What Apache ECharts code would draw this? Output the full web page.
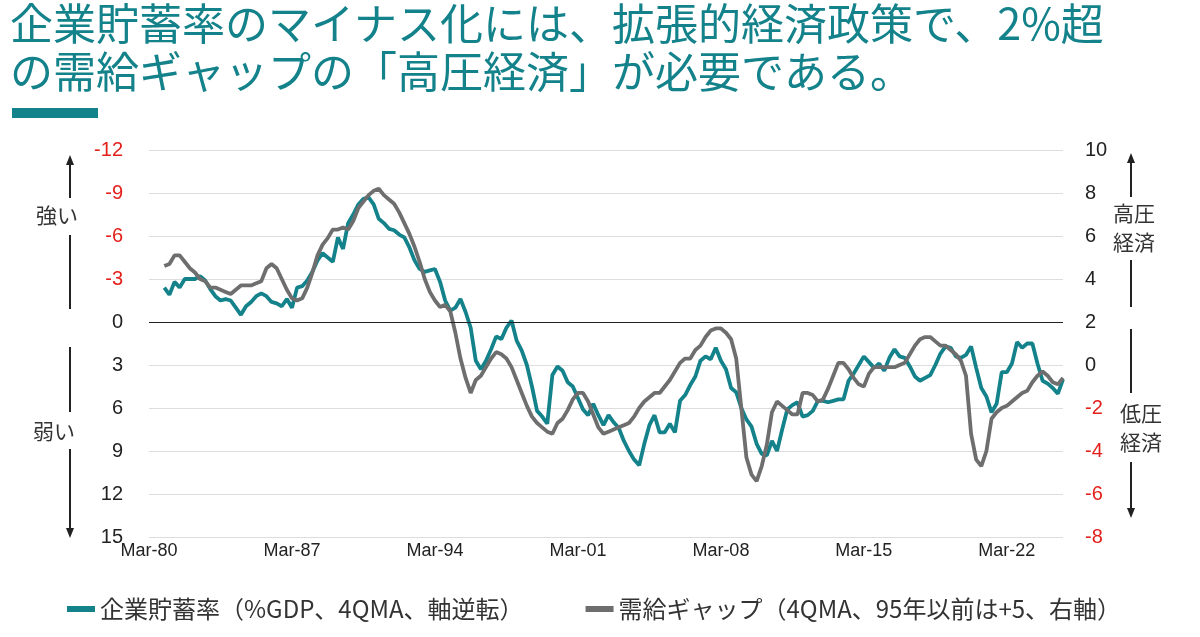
<!DOCTYPE html>
<html>
<head>
<meta charset="utf-8">
<script src="https://cdn.jsdelivr.net/npm/echarts/dist/echarts.min.js"></script>
<style>
  html, body { margin: 0; padding: 0; background: #fff; }
  #chart { width: 1200px; height: 637px; }
</style>
</head>
<body>
<div id="chart"></div>
<script>
// 四半期ラベル（Mar-80 〜 Dec-24）
var months = ['Mar', 'Jun', 'Sep', 'Dec'];
var quarters = [];
for (var y = 1980; y <= 2024; y++) {
    for (var q = 0; q < 4; q++) {
        quarters.push(months[q] + '-' + String(y % 100).padStart(2, '0'));
    }
}

// 企業貯蓄率（%GDP、4QMA、軸逆転）左軸
var savingRate = [null, null, null,
    -2.4, -1.9, -2.8, -2.4, -3.0, -3.0, -3.0, -3.2, -2.9, -2.3,
    -1.8, -1.5, -1.6, -1.5, -1.0, -0.5, -1.1, -1.4, -1.8, -2.0,
    -1.8, -1.4, -1.3, -1.1, -1.6, -1.0, -2.4, -2.5, -2.9, -3.5,
    -4.3, -4.8, -4.5, -4.2, -5.9, -5.1, -6.9, -7.5, -8.2, -8.6,
    -8.7, -8.2, -7.2, -6.9, -6.5, -6.4, -6.1, -5.9, -5.2, -4.3,
    -3.7, -3.5, -3.6, -3.7, -2.8, -1.5, -0.8, -1.0, -1.6, -0.7,
    0.4, 2.7, 3.3, 2.7, 1.9, 1.0, 1.2, 0.4, -0.1, 1.3,
    2.0, 3.0, 4.5, 6.2, 6.6, 7.1, 3.7, 3.1, 3.4, 4.2,
    4.5, 5.3, 6.1, 6.5, 5.7, 6.5, 7.2, 6.5, 7.0, 7.4,
    8.3, 9.0, 9.6, 10.0, 8.5, 7.2, 6.5, 7.7, 7.7, 7.1,
    7.7, 5.5, 5.1, 4.4, 3.8, 2.7, 2.4, 2.6, 1.8, 2.7,
    3.3, 4.6, 4.9, 6.0, 6.8, 7.3, 8.5, 9.2, 9.3, 8.3,
    9.0, 7.5, 6.1, 5.8, 5.6, 6.6, 6.5, 6.2, 5.5, 5.5,
    5.6, 5.5, 5.4, 5.4, 4.1, 3.6, 3.0, 2.4, 2.8, 3.2,
    2.9, 3.4, 2.5, 1.9, 2.4, 2.5, 3.1, 3.8, 4.1, 3.9,
    3.7, 3.0, 2.2, 1.7, 1.8, 2.4, 2.5, 2.3, 1.7, 3.2,
    4.6, 5.2, 6.3, 5.7, 3.5, 3.5, 2.9, 1.4, 1.8, 1.5,
    1.5, 2.9, 4.1, 4.3, 4.6, 5.0, 4.0
];

// 需給ギャップ（4QMA、95年以前は+5）右軸
var outputGap = [null, null, null,
    4.6, 4.7, 5.1, 5.1, 4.8, 4.5, 4.3, 4.0, 3.9, 3.6,
    3.6, 3.5, 3.4, 3.3, 3.5, 3.7, 3.7, 3.7, 3.8, 3.9,
    4.5, 4.7, 4.5, 4.0, 3.5, 3.1, 3.0, 3.1, 3.6, 4.3,
    5.1, 5.6, 5.9, 6.3, 6.3, 6.4, 6.3, 6.7, 7.3, 7.6,
    7.9, 8.1, 8.2, 7.9, 7.7, 7.5, 7.1, 6.6, 6.1, 5.5,
    4.8, 4.0, 3.4, 3.0, 2.7, 2.8, 2.5, 1.5, 0.3, -0.6,
    -1.3, -0.7, -0.5, -0.1, 0.3, 0.6, 0.5, 0.3, -0.1, -0.7,
    -1.3, -1.9, -2.4, -2.7, -2.9, -3.1, -3.2, -2.7, -2.5, -2.1,
    -1.6, -1.3, -1.3, -1.7, -2.3, -2.9, -3.2, -3.1, -3.0, -2.9,
    -2.8, -2.7, -2.4, -2.0, -1.7, -1.5, -1.3, -1.3, -1.0, -0.7,
    -0.3, 0.1, 0.3, 0.3, 0.7, 0.9, 1.3, 1.6, 1.7, 1.7,
    1.5, 1.2, 0.3, -2.0, -4.3, -5.1, -5.4, -4.7, -3.7, -2.2,
    -1.7, -1.9, -2.1, -2.3, -2.3, -1.3, -1.3, -1.4, -1.7, -1.6,
    -1.1, -0.5, 0.1, 0.1, -0.2, -0.6, -0.9, -1.0, -0.4, -0.1,
    -0.1, -0.1, -0.1, -0.1, 0.0, 0.1, 0.5, 0.9, 1.2, 1.3,
    1.3, 1.1, 0.9, 0.9, 0.7, 0.5, 0.2, -0.5, -3.2, -4.4,
    -4.7, -4.0, -2.5, -2.2, -2.0, -1.9, -1.7, -1.5, -1.3, -1.2,
    -0.8, -0.5, -0.3, -0.5, -0.8, -0.9, -0.6
];

var seriesNames = ['企業貯蓄率（%GDP、4QMA、軸逆転）', '需給ギャップ（4QMA、95年以前は+5、右軸）'];

var TEAL = '#13828a';
var GRAY = '#6e6e6e';
var RED = '#e3211c';
var JP = '"Noto Sans CJK JP", "Noto Sans", sans-serif';
var NUM = '"Liberation Sans", Arial, sans-serif';

var chart = echarts.init(document.getElementById('chart'));

// 矢印（上向き・下向き）
function arrowLine(x, y1, y2) {
    return { type: 'line', shape: { x1: x, y1: y1, x2: x, y2: y2 }, style: { stroke: '#222', lineWidth: 2 } };
}
function arrowHead(x, y, up) {
    var d = up ? 10 : -10;
    return { type: 'polygon', shape: { points: [[x, y], [x - 4, y + d], [x + 4, y + d]] }, style: { fill: '#222' } };
}
function label(text, x, y) {
    return { type: 'text', style: { text: text, x: x, y: y, font: '21px ' + JP, fill: '#333', align: 'center', verticalAlign: 'middle' } };
}

var option = {
    animation: false,
    backgroundColor: '#fff',
    title: {
        text: '企業貯蓄率のマイナス化には、拡張的経済政策で、2%超\nの需給ギャップの「高圧経済」が必要である。',
        left: 10,
        top: 0,
        padding: 0,
        textStyle: { fontFamily: JP, fontSize: 43, fontWeight: 'normal', lineHeight: 48, color: TEAL }
    },
    grid: { left: 149, right: 137, top: 150, bottom: 100 },
    legend: {
        data: seriesNames,
        left: 62,
        top: 592,
        icon: 'rect',
        itemWidth: 28,
        itemHeight: 6,
        itemGap: 62,
        textStyle: { fontFamily: JP, fontSize: 24, color: '#333' }
    },
    xAxis: {
        type: 'category',
        data: quarters,
        boundaryGap: false,
        axisLine: { show: false },
        axisTick: { show: false },
        axisLabel: {
            interval: function (idx) { return idx % 28 === 0; },
            margin: 5,
            fontFamily: NUM,
            fontSize: 18,
            color: '#222'
        },
        splitLine: { show: false }
    },
    yAxis: [{
        type: 'value',
        inverse: true,
        min: -12,
        max: 15,
        interval: 3,
        axisLine: { show: false },
        axisTick: { show: false },
        axisLabel: {
            margin: 26,
            fontFamily: NUM,
            fontSize: 20,
            color: function (v) { return v < 0 ? RED : '#222'; }
        },
        splitLine: { lineStyle: { color: '#dddddd', width: 1 } }
    }, {
        type: 'value',
        min: -8,
        max: 10,
        interval: 2,
        axisLine: { show: false },
        axisTick: { show: false },
        axisLabel: {
            margin: 22,
            fontFamily: NUM,
            fontSize: 20,
            color: function (v) { return v < 0 ? RED : '#222'; }
        },
        splitLine: { show: false }
    }],
    series: [{
        name: seriesNames[0],
        type: 'line',
        yAxisIndex: 0,
        data: savingRate,
        showSymbol: false,
        lineStyle: { color: TEAL, width: 3.8 },
        itemStyle: { color: TEAL },
        z: 3,
        markLine: {
            silent: true,
            symbol: 'none',
            label: { show: false },
            lineStyle: { color: '#222', width: 1.2, type: 'solid' },
            data: [{ yAxis: 0 }]
        }
    }, {
        name: seriesNames[1],
        type: 'line',
        yAxisIndex: 1,
        data: outputGap,
        showSymbol: false,
        lineStyle: { color: GRAY, width: 3.8 },
        itemStyle: { color: GRAY },
        z: 4
    }],
    graphic: [
        { type: 'rect', shape: { x: 12, y: 108, width: 86, height: 10 }, style: { fill: TEAL } },
        // 左側の注記
        arrowHead(70, 155, true), arrowLine(70, 163, 198), label('強い', 57, 215), arrowLine(70, 235, 309),
        arrowLine(70, 347, 412), label('弱い', 54, 431), arrowLine(70, 449, 530), arrowHead(70, 538, false),
        // 右側の注記
        arrowHead(1131, 153, true), arrowLine(1131, 161, 197), label('高圧', 1134, 213), label('経済', 1134, 242),
        arrowLine(1131, 260, 307),
        arrowLine(1131, 329, 393), label('低圧', 1141, 413), label('経済', 1141, 442),
        arrowLine(1131, 462, 510), arrowHead(1131, 518, false)
    ]
};

chart.setOption(option);
</script>
</body>
</html>
